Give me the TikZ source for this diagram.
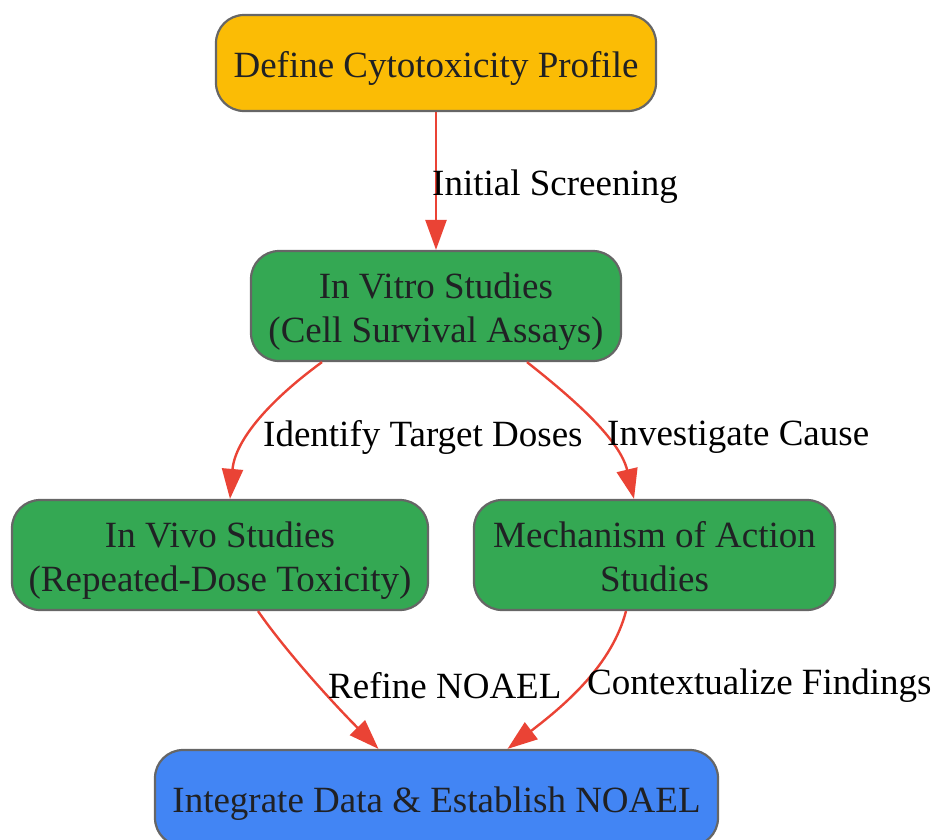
\documentclass[tikz,border=0pt]{standalone}
\usepackage{fontspec}
\setmainfont{Liberation Serif}
\usetikzlibrary{arrows.meta,calc}
\definecolor{cyellow}{HTML}{FBBC05}
\definecolor{cgreen}{HTML}{34A853}
\definecolor{cblue}{HTML}{4285F4}
\definecolor{cred}{HTML}{EA4335}
\definecolor{cborder}{HTML}{666666}
\definecolor{ctext}{HTML}{202124}
\tikzset{
  box/.style={draw=cborder, line width=2.2pt, rounded corners=28pt, align=center,
    inner sep=0pt, text=ctext, text height=36pt, font=\fontsize{37}{44}\selectfont},
  box2/.style={box, text height=80pt},
  edge/.style={draw=cred, line width=2.4pt, -{Triangle[length=30pt,width=21pt]}},
  elabel/.style={anchor=west, inner sep=0pt, text=black, font=\fontsize{37}{44}\selectfont}
}
\begin{document}
\begin{tikzpicture}[x=1pt,y=-1pt]
\useasboundingbox (0,0) rectangle (935,839);
\node[box, fill=cyellow, minimum width=440pt, minimum height=96pt] (def) at (436,63) {Define Cytotoxicity Profile};
\node[box2, fill=cgreen, minimum width=370pt, minimum height=110pt] (vitro) at (436,306) {In Vitro Studies\\(Cell Survival Assays)};
\node[box2, fill=cgreen, minimum width=416pt, minimum height=110pt] (vivo) at (220,555) {In Vivo Studies\\(Repeated-Dose Toxicity)};
\node[box2, text height=74pt, fill=cgreen, minimum width=361pt, minimum height=110pt] (moa) at (654.5,555) {Mechanism of Action\\Studies};
\node[box, fill=cblue, minimum width=563pt, minimum height=96pt] (integ) at (436.5,798) {Integrate Data \& Establish NOAEL};

\draw[edge] (def.south) -- (vitro.north);
\node[elabel] (l1) at (432,187) {Initial Screening};

\draw[edge] ($(vitro.south)+(-114,0)$) .. controls (270,400) and (235,440) .. ($(vivo.north)+(10,0)$);
\node[elabel] (l2) at (263,437) {Identify Target Doses};

\draw[edge] ($(vitro.south)+(91,0)$) .. controls (575,400) and (620,440) .. ($(moa.north)+(-20.5,0)$);
\node[elabel] (l3) at (607,437) {Investigate Cause};

\draw[edge] ($(vivo.south)+(38,0)$) .. controls (285,650) and (330,700) .. ($(integ.north)+(-58,0)$);
\node[elabel] (l4) at (328,686) {Refine NOAEL};

\draw[edge] ($(moa.south)+(-28.5,0)$) .. controls (612,665) and (565,705) .. ($(integ.north)+(71,0)$);
\node[elabel] (l5) at (587,686) {Contextualize Findings};
\end{tikzpicture}
\end{document}
